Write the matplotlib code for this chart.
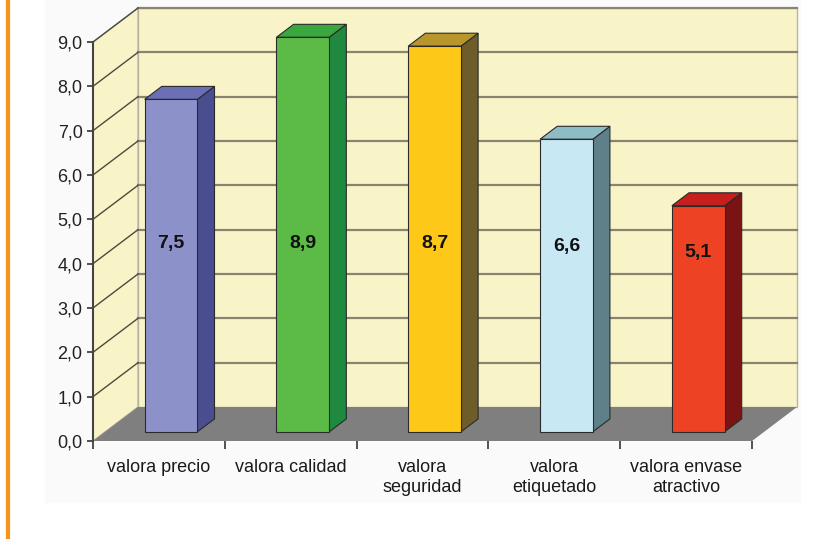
import matplotlib
matplotlib.use('Agg')
from matplotlib import pyplot as plt
from matplotlib.patches import Polygon, Rectangle
from matplotlib.ticker import FuncFormatter

plt.rcParams['font.family'] = ['Liberation Sans', 'DejaVu Sans']

####

categories = ['valora precio', 'valora calidad', 'valora\nseguridad',
              'valora\netiquetado', 'valora envase\natractivo']
values = [7.5, 8.9, 8.7, 6.6, 5.1]
labels = ['7,5', '8,9', '8,7', '6,6', '5,1']

front_colors = ['#8d91c9', '#5cba47', '#fdc817', '#c8e8f4', '#ee4224']
top_colors   = ['#6b6fb6', '#3ba73f', '#b8962b', '#8ebcc4', '#c51f1e']
side_colors  = ['#4a4e8e', '#1f8a3f', '#6f5d29', '#5f8088', '#7a1313']

####

ymax = 9
DX = 45 / 131.8   # depth offset in category units
DY = 34 / 44.33   # depth offset in value units
t0, t1 = 0.27, 0.65  # bar depth range (fraction of floor depth)
bar_w = 0.40

fig = plt.figure(figsize=(8.29, 5.39), dpi=100)
fig.patch.set_facecolor('white')

# orange rule on the left edge + light panel behind the chart
fig.add_artist(plt.Line2D([8 / 829, 8 / 829], [0, 1], color='#f7941d', lw=3))
fig.add_artist(Rectangle((45 / 829, 37 / 539), 755 / 829, 1 - 37 / 539,
                         transform=fig.transFigure, color='#fafafa', zorder=-5))

ax = fig.add_axes([93 / 829, 98 / 539, 659 / 829, 399 / 539])
ax.set_xlim(-0.5, len(values) - 0.5)
ax.set_ylim(0, ymax)
ax.patch.set_visible(False)
for s in ['top', 'right', 'bottom']:
  ax.spines[s].set_visible(False)
ax.spines['left'].set_color('#444444')
ax.spines['left'].set_linewidth(1.5)

x0, x1 = -0.5, len(values) - 0.5
wall = '#f8f4c8'

# back wall, left wall, floor
ax.add_patch(Polygon([(x0 + DX, DY), (x1 + DX, DY), (x1 + DX, ymax + DY), (x0 + DX, ymax + DY)],
                     facecolor=wall, edgecolor='#b9b3a5', lw=1, clip_on=False, zorder=1))
ax.add_patch(Polygon([(x0, 0), (x0 + DX, DY), (x0 + DX, ymax + DY), (x0, ymax)],
                     facecolor=wall, edgecolor='#b9b3a5', lw=1, clip_on=False, zorder=1))
ax.add_patch(Polygon([(x0, 0), (x1, 0), (x1 + DX, DY), (x0 + DX, DY)],
                     facecolor='#7f7f80', edgecolor='none', clip_on=False, zorder=2))

# gridlines on the walls
for k in range(1, ymax + 1):
  ax.plot([x0 + DX, x1 + DX], [k + DY, k + DY], color='#8a846f', lw=1.6,
          clip_on=False, zorder=1.5)
  ax.plot([x0, x0 + DX], [k, k + DY], color='#4a4a40', lw=1.0,
          clip_on=False, zorder=1.5)

# 3D bars
for i, v in enumerate(values):
  fx0 = i - bar_w / 2 + t0 * DX
  fx1 = i + bar_w / 2 + t0 * DX
  fy0 = t0 * DY
  fy1 = v + t0 * DY
  ddx = (t1 - t0) * DX
  ddy = (t1 - t0) * DY
  ec = '#2a2a2a'
  ax.add_patch(Polygon([(fx1, fy0), (fx1 + ddx, fy0 + ddy), (fx1 + ddx, fy1 + ddy), (fx1, fy1)],
                       facecolor=side_colors[i], edgecolor=ec, lw=0.8, clip_on=False, zorder=3))
  ax.add_patch(Polygon([(fx0, fy1), (fx1, fy1), (fx1 + ddx, fy1 + ddy), (fx0 + ddx, fy1 + ddy)],
                       facecolor=top_colors[i], edgecolor=ec, lw=0.8, clip_on=False, zorder=3))
  ax.add_patch(Polygon([(fx0, fy0), (fx1, fy0), (fx1, fy1), (fx0, fy1)],
                       facecolor=front_colors[i], edgecolor=ec, lw=0.8, clip_on=False, zorder=4))
  ax.text((fx0 + fx1) / 2, 3.85 + 0.08 * min(v, 7.5), labels[i], ha='center', va='center',
          fontsize=14, fontweight='bold', color='#111111', zorder=5)

# ticks
ax.set_yticks(range(0, ymax + 1))
ax.yaxis.set_major_formatter(FuncFormatter(lambda y, p: ('%.1f' % y).replace('.', ',')))
ax.tick_params(axis='y', direction='out', length=4.5, width=1.3, color='#444444',
               pad=3, labelsize=13, labelcolor='#222222')

ax.set_xticks(range(len(values)))
ax.set_xticklabels(categories, fontsize=13, color='#1a1a1a', linespacing=1.25, va='top')
ax.tick_params(axis='x', which='major', length=0, pad=13)
ax.set_xticks([x - 0.5 for x in range(len(values) + 1)], minor=True)
ax.tick_params(axis='x', which='minor', direction='out', length=6, width=1.3, color='#444444')

plt.savefig('out.png', dpi=100)
